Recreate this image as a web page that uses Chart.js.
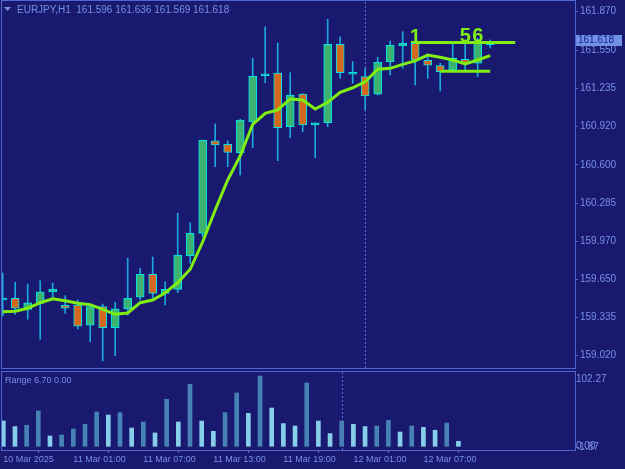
<!DOCTYPE html>
<html lang="en">
<head>
<meta charset="UTF-8">
<title>EURJPY,H1</title>
<script src="https://cdn.jsdelivr.net/npm/chart.js@4.4.1/dist/chart.umd.min.js"></script>
<style>
  html, body { margin: 0; padding: 0; background: #191970; overflow: hidden; }
  #wrap { position: relative; width: 625px; height: 469px; }
  #main { position: absolute; left: 0; top: 0; }
  #sub { position: absolute; left: 0; top: 371px; }
</style>
</head>
<body>
<div id="wrap">
  <canvas id="main" width="625" height="371"></canvas>
  <canvas id="sub" width="625" height="98"></canvas>
</div>
<script>
// H1 bars, 10 Mar 19:00 .. 12 Mar 10:00
const opens  = [159.482, 159.496, 159.404, 159.454, 159.548, 159.438, 159.440, 159.272, 159.426, 159.252,
                159.407, 159.504, 159.694, 159.537, 159.570, 159.849, 160.034, 160.801, 160.771, 160.702,
                160.959, 161.340, 161.362, 160.917, 161.188, 160.931, 160.950, 161.600, 161.352, 161.332,
                161.186, 161.456, 161.588, 161.608, 161.467, 161.423, 161.387, 161.476, 161.443, 161.596];
const highs  = [159.705, 159.628, 159.614, 159.641, 159.622, 159.517, 159.481, 159.440, 159.448, 159.463,
                159.827, 159.744, 159.838, 159.633, 160.200, 160.122, 160.807, 160.940, 160.801, 160.979,
                161.484, 161.746, 161.611, 161.365, 161.190, 160.950, 161.807, 161.663, 161.456, 161.401,
                161.492, 161.627, 161.704, 161.636, 161.511, 161.443, 161.600, 161.600, 161.650, 161.636];
const lows   = [159.349, 159.363, 159.322, 159.156, 159.482, 159.371, 159.241, 159.136, 158.976, 159.020,
                159.357, 159.482, 159.496, 159.440, 159.542, 159.786, 160.006, 160.586, 160.586, 160.517,
                160.743, 161.282, 160.636, 160.826, 160.876, 160.660, 160.917, 161.318, 161.277, 161.056,
                161.180, 161.346, 161.401, 161.263, 161.318, 161.213, 161.379, 161.368, 161.332, 161.569];
const closes = [159.498, 159.413, 159.459, 159.550, 159.570, 159.413, 159.264, 159.426, 159.252, 159.409,
                159.496, 159.694, 159.537, 159.570, 159.854, 160.034, 160.807, 160.766, 160.705, 160.973,
                161.337, 161.356, 160.909, 161.180, 160.931, 160.950, 161.600, 161.365, 161.368, 161.172,
                161.451, 161.594, 161.608, 161.470, 161.428, 161.373, 161.484, 161.443, 161.608, 161.618];
const maValues = [159.385, 159.388, 159.413, 159.459, 159.492, 159.476, 159.454, 159.443, 159.404, 159.363,
                  159.374, 159.459, 159.481, 159.542, 159.625, 159.736, 159.964, 160.227, 160.476, 160.675,
                  160.937, 161.028, 161.056, 161.147, 161.139, 161.064, 161.119, 161.202, 161.240, 161.290,
                  161.393, 161.401, 161.434, 161.462, 161.511, 161.492, 161.470, 161.437, 161.470, 161.506];
const ranges = [36.8, 28.7, 30.6, 51.4, 15.0, 16.4, 25.2, 32.0, 49.9, 45.5,
                49.0, 26.6, 35.4, 19.4, 68.4, 35.4, 90.2, 36.8, 21.8, 49.0,
                77.5, 48.0, 102.27, 55.7, 33.0, 29.5, 92.1, 36.8, 18.5, 36.8,
                32.0, 28.7, 29.5, 37.8, 20.8, 29.5, 27.6, 23.3, 33.9, 7.3];
const rangeLow = -1.87;

const priceTicks = [159.020, 159.335, 159.650, 159.970, 160.285, 160.600, 160.920, 161.235, 161.550, 161.870];
const tickBars = [0, 6, 12, 18, 24, 30, 36];
const tickLabels = ['10 Mar 2025', '11 Mar 01:00', '11 Mar 07:00', '11 Mar 13:00', '11 Mar 19:00', '12 Mar 01:00', '12 Mar 07:00'];

const levelBars = [[33, 41], [35, 39]];
const levelPrices = [161.615, 161.376];
const markBars = [33, 37, 38];
const markText = ['1', '5', '6'];
const markPrices = [161.608, 161.621, 161.621];
const cursorBar = 29;
const lastPrice = 161.618;
const titleText = 'EURJPY,H1  161.596 161.636 161.569 161.618';
const rangeText = 'Range 6.70 0.00';

const BG = '#191970', FRAME = '#4f67cf', TXT = '#7890e0';
const GREEN = '#80ee12', CYAN = '#00e4ee', WICK = '#1ca6dc';
const BULL = '#3cb371', BEAR = '#d2691e';
const VUP = '#4682b4', VDN = '#87ceeb';
const FONT = 'Liberation Sans, Arial, sans-serif';

const idx = opens.map((_, i) => i);

const mainPanel = {
  id: 'mainPanel',
  beforeDatasetsDraw(chart) {
    const c = chart.ctx, a = chart.chartArea;
    const x = Math.round(chart.scales.x.getPixelForValue(cursorBar)) + 0.5;
    c.save();
    c.strokeStyle = FRAME; c.lineWidth = 1; c.setLineDash([2, 2]);
    c.beginPath(); c.moveTo(x, a.top); c.lineTo(x, a.bottom); c.stroke();
    c.restore();
  },
  afterDatasetsDraw(chart) {
    const c = chart.ctx, sx = chart.scales.x, sy = chart.scales.y;
    c.save();
    c.fillStyle = GREEN;
    c.font = 'bold 20px ' + FONT;
    c.textAlign = 'center'; c.textBaseline = 'alphabetic';
    markBars.forEach((b, i) => c.fillText(markText[i], sx.getPixelForValue(b), sy.getPixelForValue(markPrices[i])));
    c.restore();
  },
  afterDraw(chart) {
    const c = chart.ctx, sy = chart.scales.y;
    c.save();
    c.strokeStyle = FRAME; c.lineWidth = 1;
    c.strokeRect(1.5, 0.5, 574, 368);
    // title
    c.fillStyle = TXT;
    c.beginPath(); c.moveTo(4, 7); c.lineTo(11, 7); c.lineTo(7.5, 11); c.closePath(); c.fill();
    c.font = '10px ' + FONT; c.textBaseline = 'middle'; c.textAlign = 'left';
    c.fillText(titleText, 17, 10);
    // last price box
    const py = sy.getPixelForValue(lastPrice);
    c.fillStyle = '#6f92e6';
    c.fillRect(576, Math.round(py) - 7, 46, 11);
    c.fillStyle = '#1b2588';
    c.fillText(lastPrice.toFixed(3), 578, Math.round(py) - 1.5);
    c.restore();
  }
};

new Chart(document.getElementById('main'), {
  type: 'bar',
  data: {
    datasets: [
      { type: 'line', data: idx.map(i => ({ x: i, y: maValues[i] })), borderColor: GREEN, borderWidth: 3,
        pointRadius: 0, tension: 0, order: 0 },
      ...levelBars.map((b, k) => ({ type: 'line', data: [{ x: b[0], y: levelPrices[k] }, { x: b[1], y: levelPrices[k] }],
        borderColor: GREEN, borderWidth: 3, pointRadius: 0, order: 0 })),
      { type: 'bar', data: idx.map(i => ({ x: i, y: [opens[i], closes[i]] })),
        backgroundColor: idx.map(i => closes[i] >= opens[i] ? BULL : BEAR),
        borderColor: CYAN, borderWidth: 1, borderSkipped: false, barThickness: 8, grouped: false, order: 1 },
      { type: 'bar', data: idx.map(i => ({ x: i, y: [lows[i], highs[i]] })),
        backgroundColor: WICK, borderWidth: 0, barThickness: 1, grouped: false, order: 2 }
    ]
  },
  options: {
    responsive: false, animation: false, devicePixelRatio: 1,
    layout: { padding: { top: 2, left: 1, bottom: 2, right: 0 } },
    plugins: { legend: { display: false }, tooltip: { enabled: false } },
    scales: {
      x: { type: 'linear', min: -0.136, max: 45.784, offset: false, display: false },
      y: {
        position: 'right', min: 158.9098, max: 161.9504,
        afterBuildTicks: s => { s.ticks = priceTicks.map(v => ({ value: v })); },
        afterFit: s => { s.width = 50; s.paddingTop = 0; s.paddingBottom = 0; },
        ticks: { color: TXT, font: { family: FONT, size: 10 }, padding: 2, callback: v => v.toFixed(3) },
        grid: { drawOnChartArea: false, tickLength: 3, color: FRAME },
        border: { display: false }
      }
    }
  },
  plugins: [mainPanel]
});

const subPanel = {
  id: 'subPanel',
  afterDraw(chart) {
    const c = chart.ctx, sx = chart.scales.x, sy = chart.scales.y, a = chart.chartArea;
    c.save();
    c.strokeStyle = FRAME; c.lineWidth = 1;
    c.strokeRect(1.5, 0.5, 574, 79);
    const x = Math.round(sx.getPixelForValue(cursorBar)) + 0.5;
    c.setLineDash([2, 2]);
    c.beginPath(); c.moveTo(x, a.top); c.lineTo(x, a.bottom); c.stroke();
    c.setLineDash([]);
    c.fillStyle = TXT; c.textBaseline = 'middle'; c.textAlign = 'left';
    c.font = '9px ' + FONT;
    c.fillText(rangeText, 5, 9.5);
    c.font = '10px ' + FONT;
    const top = Math.max(...ranges);
    c.fillText(top.toFixed(2), 576, sy.getPixelForValue(top) + 3);
    c.fillText((0).toFixed(2), 576, sy.getPixelForValue(0));
    c.fillText(rangeLow.toFixed(2), 576, sy.getPixelForValue(rangeLow));
    c.restore();
  }
};

new Chart(document.getElementById('sub'), {
  type: 'bar',
  data: {
    datasets: [{
      data: idx.map(i => ({ x: i, y: ranges[i] })),
      backgroundColor: ranges.map((v, i) => i > 0 && v > ranges[i - 1] ? VUP : VDN),
      barThickness: 4, grouped: false, borderWidth: 0
    }]
  },
  options: {
    responsive: false, animation: false, devicePixelRatio: 1,
    layout: { padding: { top: 1, left: 1, bottom: 0, right: 0 } },
    plugins: { legend: { display: false }, tooltip: { enabled: false } },
    scales: {
      x: {
        type: 'linear', min: -0.197, max: 48.99, offset: false,
        afterBuildTicks: s => { s.ticks = tickBars.map(v => ({ value: v })); },
        afterFit: s => { s.height = 19; s.paddingLeft = 0; s.paddingRight = 0; },
        ticks: { align: 'start', color: TXT, font: { family: FONT, size: 9 }, padding: 1, maxRotation: 0,
                 autoSkip: false, callback: (v, i) => tickLabels[i] },
        grid: { drawOnChartArea: false, tickLength: 3, color: FRAME },
        border: { display: false }
      },
      y: {
        position: 'right', min: -5.38, max: 108.09,
        afterFit: s => { s.width = 50; s.paddingTop = 0; s.paddingBottom = 0; },
        ticks: { display: false }, grid: { display: false }, border: { display: false }
      }
    }
  },
  plugins: [subPanel]
});
</script>
</body>
</html>
